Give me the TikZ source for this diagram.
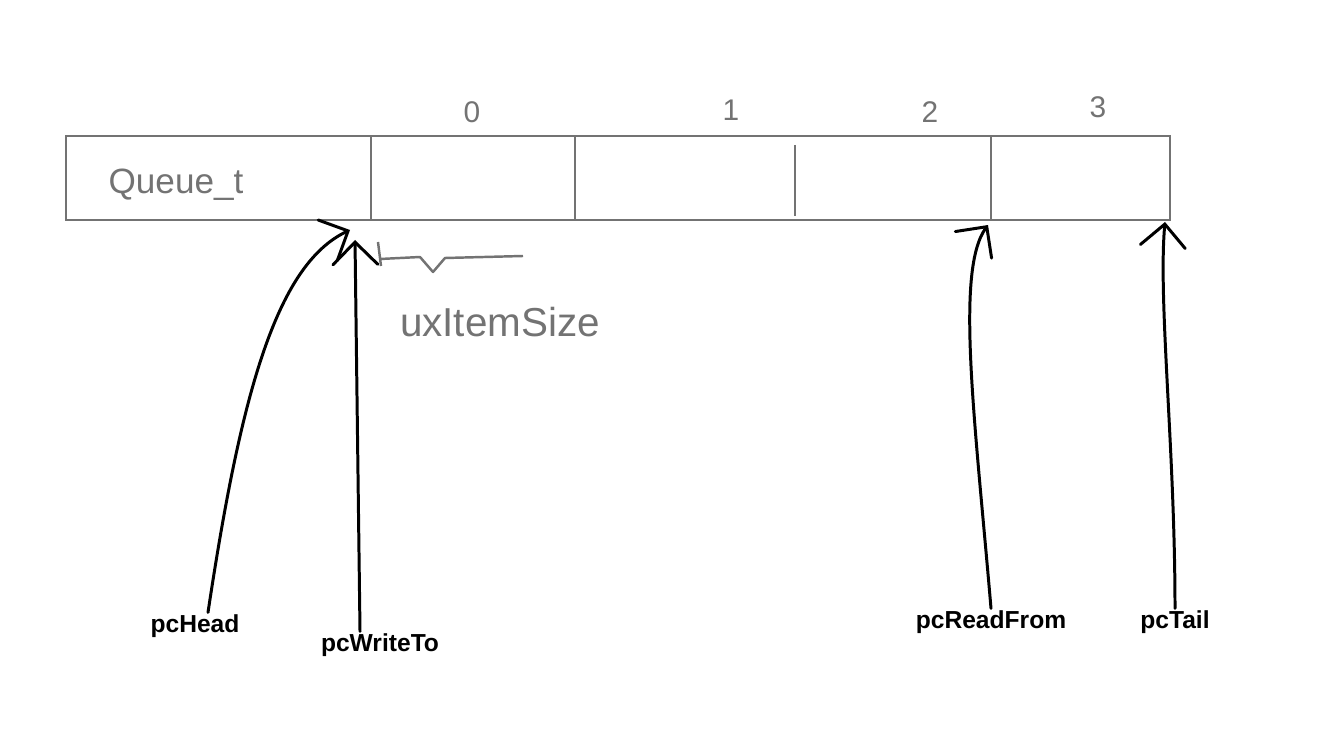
\documentclass[tikz,border=0pt]{standalone}
\usepackage{fontspec}
\setmainfont{Liberation Sans}
\newfontfamily\pencilfont{Liberation Sans}
\usetikzlibrary{arrows.meta}
\definecolor{pencil}{gray}{0.45}

\begin{document}
\begin{tikzpicture}[x=0.02cm,y=-0.02cm,
  cell/.style={draw=pencil, line width=1.2pt},
  pointer/.style={black, line width=1.7pt, line cap=round,
    -{Straight Barb[length=4.5mm,width=9mm,line cap=round]}},
  hand/.style={pencil, inner sep=0pt, font=\pencilfont\fontsize{20}{22}\selectfont},
  ptrlabel/.style={inner sep=1pt, font=\bfseries\fontsize{14}{16}\selectfont}]

\useasboundingbox (0,0) rectangle (1341,729);

% the queue structure followed by its storage area
\draw[cell] (66,136) rectangle (1170,220);
\foreach \x in {371,575,991}
  \draw[cell] (\x,136) -- (\x,220);
\draw[cell] (795,145) -- (795,216);

\node[hand] (qname) at (176,185) {Queue\_t};

% the item indices above the cells
\foreach \x/\y/\idx in {472/112/0,731/110/1,930/112/2,1098/107/3}
  \node[hand, font=\pencilfont\fontsize{17}{19}\selectfont] (idx\idx) at (\x,\y) {\idx};

% the size of one item
\draw[pencil, line width=1.4pt, line join=round]
  (378,242) -- (381,266) (380,259) -- (420,257) -- (433,272) -- (445,258) -- (523,256);
\node[hand, font=\pencilfont\fontsize{23}{25}\selectfont] (itemsize) at (500,322) {uxItemSize};

% where the pointers point to
\coordinate (headtip) at (350,230);
\coordinate (writetip) at (355,240);
\coordinate (readtip) at (988,225);
\coordinate (tailtip) at (1165,222);

% the pointer names
\node[ptrlabel] (head) at (195,626) {pcHead};
\node[ptrlabel] (writeto) at (380,645) {pcWriteTo};
\node[ptrlabel] (readfrom) at (991,622) {pcReadFrom};
\node[ptrlabel] (tail) at (1175,622) {pcTail};

% the pointers
\draw[pointer] ([xshift=0.26cm]head.north) .. controls (240,400) and (275,265) .. (headtip);
\draw[pointer] ([xshift=-0.4cm]writeto.north) -- (writetip);
\draw[pointer] (readfrom.north) .. controls (975,420) and (955,270) .. (readtip);
\draw[pointer] (tail.north) .. controls (1175,450) and (1158,300) .. (tailtip);

\end{tikzpicture}
\end{document}
